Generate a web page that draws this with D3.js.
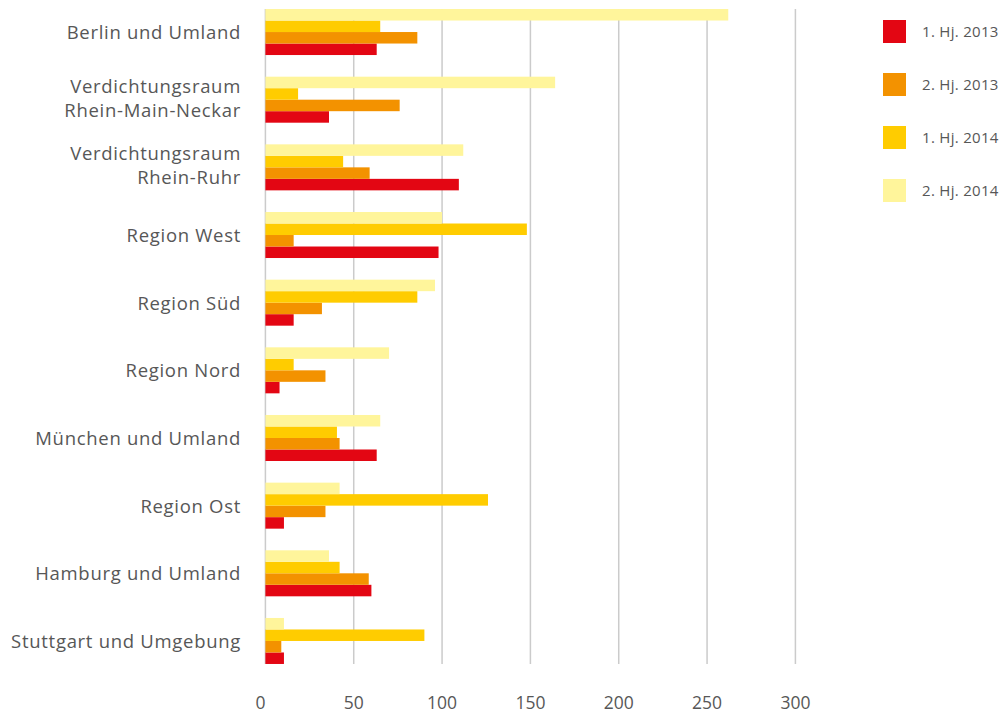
<!DOCTYPE html>
<html>
<head>
<meta charset="utf-8">
<script src="https://cdn.jsdelivr.net/npm/d3@7"></script>
<style>
  body { margin: 0; background: #fff; }
  text { font-family: "Open Sans", sans-serif; fill: #575757; }
</style>
</head>
<body>
<script>
// categories (top to bottom)
var regions = [
  ["Berlin und Umland"],
  ["Verdichtungsraum", "Rhein-Main-Neckar"],
  ["Verdichtungsraum", "Rhein-Ruhr"],
  ["Region West"],
  ["Region Süd"],
  ["Region Nord"],
  ["München und Umland"],
  ["Region Ost"],
  ["Hamburg und Umland"],
  ["Stuttgart und Umgebung"]
];

// series, one value per region
var seriesNames = ["1. Hj. 2013", "2. Hj. 2013", "1. Hj. 2014", "2. Hj. 2014"];
var hj1_2013 = [63, 36, 109.5, 98, 16, 8, 63, 10.5, 60, 10.5];
var hj2_2013 = [86, 76, 59, 16, 32, 34, 42, 34, 58.5, 9];
var hj1_2014 = [65, 18.5, 44, 148, 86, 16, 40.5, 126, 42, 90];
var hj2_2014 = [262, 164, 112, 100, 96, 70, 65, 42, 36, 10.5];
var colors = ["#e30613", "#f39200", "#ffcc00", "#fff59b"];

var xTicks = [0, 50, 100, 150, 200, 250, 300];

var width = 1003, height = 715;

var svg = d3.select("body").append("svg")
    .attr("width", width)
    .attr("height", height);

var x = d3.scaleLinear().domain([0, 300]).range([265.4, 795.4]);

var regionIdx = d3.range(regions.length);
var y = d3.scaleBand()
    .domain(regionIdx)
    .range([-1.8, 674.8])
    .paddingInner(0.32)
    .paddingOuter(0.16);

// bars within a group: last series on top
var seriesData = [hj1_2013, hj2_2013, hj1_2014, hj2_2014];
var ySub = d3.scaleBand()
    .domain([3, 2, 1, 0])
    .range([0, y.bandwidth()]);

// gridlines
var gridTop = y(0) , gridBottom = y(regions.length - 1) + y.bandwidth();
svg.append("g")
  .selectAll("line")
  .data(xTicks)
  .enter().append("line")
    .attr("x1", function(d) { return x(d); })
    .attr("x2", function(d) { return x(d); })
    .attr("y1", gridTop)
    .attr("y2", gridBottom)
    .attr("stroke", "#cbcbcb")
    .attr("stroke-width", 1.5);

// bars
seriesData.forEach(function(vals, s) {
  svg.append("g")
    .selectAll("rect")
    .data(vals)
    .enter().append("rect")
      .attr("x", x(0))
      .attr("y", function(d, i) { return y(i) + ySub(s); })
      .attr("width", function(d) { return x(d) - x(0); })
      .attr("height", ySub.bandwidth())
      .attr("fill", colors[s]);
});

// category labels (baseline based)
var lineH = 24;
var labels = svg.append("g").selectAll("text")
  .data(regions)
  .enter().append("text")
    .attr("text-anchor", "end")
    .attr("font-size", 18.5)
    .attr("letter-spacing", 0.7)
    .attr("y", function(d, i) {
      var c = y(i) + y.bandwidth() / 2;
      return d.length > 1 ? c + 5 - lineH / 2 : c + 7;
    });
labels.selectAll("tspan")
  .data(function(d) { return d; })
  .enter().append("tspan")
    .attr("x", 241)
    .attr("dy", function(d, i) { return i === 0 ? 0 : lineH; })
    .text(function(d) { return d; });

// x axis labels
svg.append("g").selectAll("text")
  .data(xTicks)
  .enter().append("text")
    .attr("x", function(d) { return d === 0 ? x(d) - 5 : x(d); })
    .attr("y", 703)
    .attr("dy", "0.35em")
    .attr("text-anchor", "middle")
    .attr("font-size", 17.5)
    .text(function(d) { return d; });

// legend
var legend = svg.append("g").selectAll("g")
  .data(seriesNames)
  .enter().append("g")
    .attr("transform", function(d, i) { return "translate(883," + (20 + i * 53) + ")"; });
legend.append("rect")
    .attr("width", 23)
    .attr("height", 23)
    .attr("fill", function(d, i) { return colors[i]; });
legend.append("text")
    .attr("x", 39)
    .attr("y", 11.5)
    .attr("dy", "0.35em")
    .attr("font-size", 15)
    .attr("letter-spacing", 0.3)
    .text(function(d) { return d; });
</script>
</body>
</html>
